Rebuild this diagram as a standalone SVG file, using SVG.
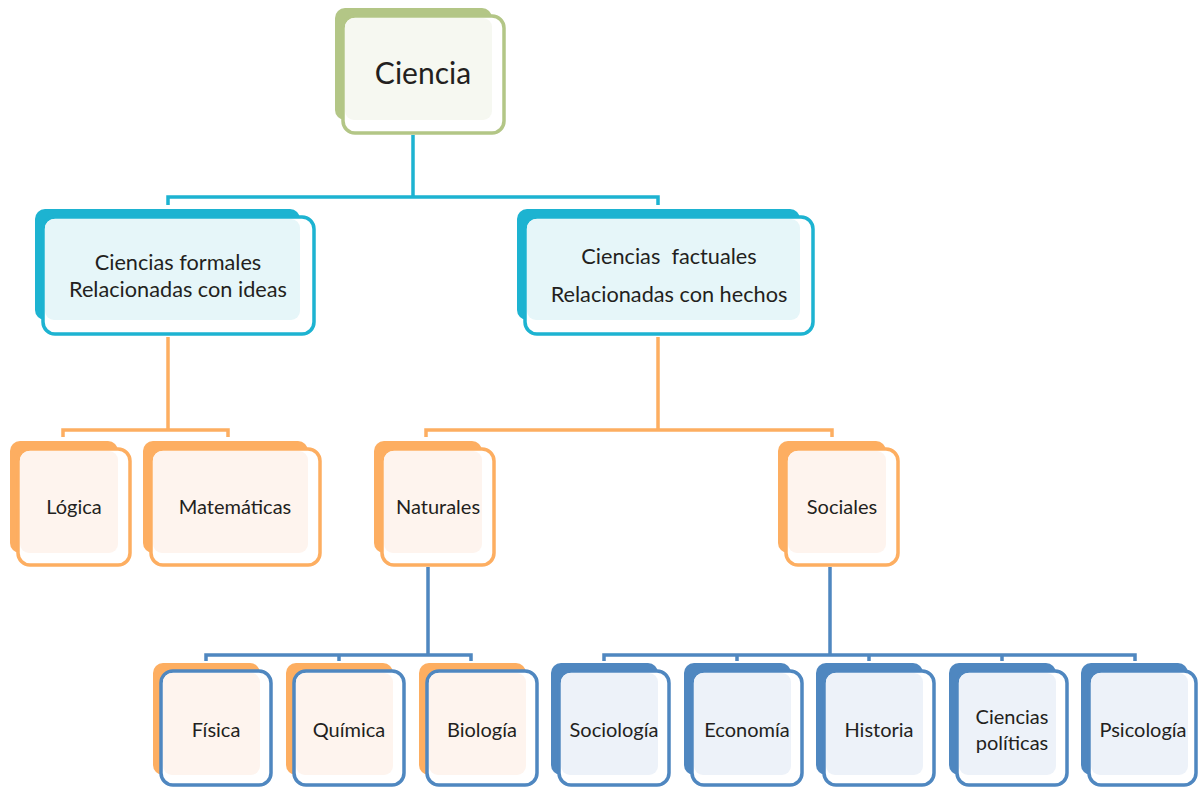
<svg xmlns="http://www.w3.org/2000/svg" width="1198" height="789" viewBox="0 0 1198 789">
<style>
text{font-family:Lato,"Liberation Sans",sans-serif;font-size:20px;fill:#231f20;text-anchor:middle}
.big{font-size:30px}
.two{font-size:21.7px}
.ob{stroke-width:3.5}
.gB{fill:#b3c686}.gO{fill:#fff;stroke:#b3c686}.gL{fill:#f6f8f1}
.cB{fill:#1db3d1}.cO{fill:#fff;stroke:#1db3d1}.cL{fill:#e6f6f9}
.oB{fill:#fdae61}.oO{fill:#fff;stroke:#fdae61}.oL{fill:#fef4ee}
.bB{fill:#4f87c0}.bO{fill:#fff;stroke:#4f87c0}.bL{fill:#edf2f9}
.cc{fill:none;stroke:#1db3d1;stroke-width:3.5}
.co{fill:none;stroke:#fdae61;stroke-width:3.5}
.cb{fill:none;stroke:#4f87c0;stroke-width:3.5}
</style>
<g id="connectors">
<path class="cc" d="M413 135V197M168 205V197H658V205"/>
<path class="co" d="M168 337V430M63 437V430H228V437"/>
<path class="co" d="M658 337V430M426 437V430H832V437"/>
<path class="cb" d="M428 567V655M206 661V655H471V661M339 655V661"/>
<path class="cb" d="M830 567V655M604 661V655H1135V661M737 655V661M869 655V661M1002 655V661"/>
</g>
<g id="ciencia">
<rect class="gB" x="335" y="8" width="157" height="112" rx="10"/>
<rect class="gO ob" x="343" y="16" width="161" height="117" rx="12"/>
<rect class="gL" x="345" y="18" width="147" height="102" rx="9"/>
<text class="big" x="423" y="84">Ciencia</text>
</g>
<g id="formales">
<rect class="cB" x="35" y="209" width="265" height="111" rx="10"/>
<rect class="cO ob" x="43" y="217" width="271" height="117" rx="12"/>
<rect class="cL" x="45" y="219" width="255" height="101" rx="9"/>
<text class="two" x="178" y="270">Ciencias formales</text>
<text class="two" x="178" y="297">Relacionadas con ideas</text>
</g>
<g id="factuales">
<rect class="cB" x="517" y="209" width="283" height="111" rx="10"/>
<rect class="cO ob" x="525" y="217" width="288" height="117" rx="12"/>
<rect class="cL" x="527" y="219" width="273" height="101" rx="9"/>
<text class="two" x="669" y="264" xml:space="preserve">Ciencias  factuales</text>
<text class="two" x="669" y="302">Relacionadas con hechos</text>
</g>
<g id="logica">
<rect class="oB" x="10" y="441" width="108" height="112" rx="10"/>
<rect class="oO ob" x="18" y="449" width="112" height="116" rx="12"/>
<rect class="oL" x="20" y="451" width="98" height="102" rx="9"/>
<text x="74" y="514">Lógica</text>
</g>
<g id="matematicas">
<rect class="oB" x="143" y="441" width="165" height="112" rx="10"/>
<rect class="oO ob" x="151" y="449" width="169" height="116" rx="12"/>
<rect class="oL" x="153" y="451" width="155" height="102" rx="9"/>
<text x="235" y="514">Matemáticas</text>
</g>
<g id="naturales">
<rect class="oB" x="374" y="441" width="108" height="112" rx="10"/>
<rect class="oO ob" x="382" y="449" width="112" height="116" rx="12"/>
<rect class="oL" x="384" y="451" width="98" height="102" rx="9"/>
<text x="438" y="514">Naturales</text>
</g>
<g id="sociales">
<rect class="oB" x="778" y="441" width="108" height="112" rx="10"/>
<rect class="oO ob" x="786" y="449" width="112" height="116" rx="12"/>
<rect class="oL" x="788" y="451" width="98" height="102" rx="9"/>
<text x="842" y="514">Sociales</text>
</g>
<g id="fisica">
<rect class="oB" x="153" y="663" width="107" height="112" rx="10"/>
<rect class="bO ob" x="161" y="671" width="110" height="114" rx="12"/>
<rect class="oL" x="163" y="673" width="97" height="102" rx="9"/>
<text x="216" y="737">Física</text>
</g>
<g id="quimica">
<rect class="oB" x="286" y="663" width="107" height="112" rx="10"/>
<rect class="bO ob" x="294" y="671" width="110" height="114" rx="12"/>
<rect class="oL" x="296" y="673" width="97" height="102" rx="9"/>
<text x="349" y="737">Química</text>
</g>
<g id="biologia">
<rect class="oB" x="419" y="663" width="107" height="112" rx="10"/>
<rect class="bO ob" x="427" y="671" width="110" height="114" rx="12"/>
<rect class="oL" x="429" y="673" width="97" height="102" rx="9"/>
<text x="482" y="737">Biología</text>
</g>
<g id="sociologia">
<rect class="bB" x="551" y="663" width="107" height="112" rx="10"/>
<rect class="bO ob" x="559" y="671" width="110" height="114" rx="12"/>
<rect class="bL" x="561" y="673" width="97" height="102" rx="9"/>
<text x="614" y="737">Sociología</text>
</g>
<g id="economia">
<rect class="bB" x="684" y="663" width="107" height="112" rx="10"/>
<rect class="bO ob" x="692" y="671" width="110" height="114" rx="12"/>
<rect class="bL" x="694" y="673" width="97" height="102" rx="9"/>
<text x="747" y="737">Economía</text>
</g>
<g id="historia">
<rect class="bB" x="816" y="663" width="107" height="112" rx="10"/>
<rect class="bO ob" x="824" y="671" width="110" height="114" rx="12"/>
<rect class="bL" x="826" y="673" width="97" height="102" rx="9"/>
<text x="879" y="737">Historia</text>
</g>
<g id="politicas">
<rect class="bB" x="949" y="663" width="107" height="112" rx="10"/>
<rect class="bO ob" x="957" y="671" width="110" height="114" rx="12"/>
<rect class="bL" x="959" y="673" width="97" height="102" rx="9"/>
<text x="1012" y="724">Ciencias</text>
<text x="1012" y="750">políticas</text>
</g>
<g id="psicologia">
<rect class="bB" x="1081" y="663" width="107" height="112" rx="10"/>
<rect class="bO ob" x="1089" y="671" width="107" height="114" rx="12"/>
<rect class="bL" x="1091" y="673" width="97" height="102" rx="9"/>
<text x="1143" y="737">Psicología</text>
</g>
</svg>
